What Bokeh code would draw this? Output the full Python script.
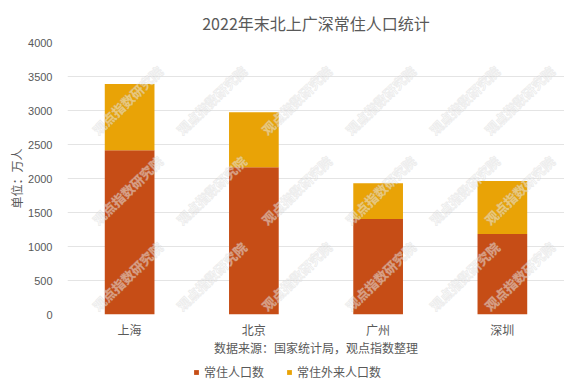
from bokeh.plotting import figure
from bokeh.layouts import column
from bokeh.models import ColumnDataSource, Range1d, FixedTicker, Legend, LegendItem, Label
from bokeh.embed import file_html
from bokeh.resources import INLINE

cities = ["上海", "北京", "广州", "深圳"]
resident = [2415, 2165, 1405, 1185]
migrant = [975, 810, 525, 780]
series = ["常住人口数", "常住外来人口数"]
colors = ["#C64D16", "#E9A306"]
y_ticks = [0, 500, 1000, 1500, 2000, 2500, 3000, 3500, 4000]
watermark_text = "观点指数研究院"

FONT = "Noto Sans CJK SC"
GRAY = "#595959"

source = ColumnDataSource(data=dict(city=cities, resident=resident, migrant=migrant))

p = figure(x_range=cities, y_range=Range1d(0, 4000), width=559, height=358,
           output_backend="svg", toolbar_location=None,
           min_border_left=51, min_border_right=0, min_border_top=33, min_border_bottom=44)
p.margin = (0, 0, 0, 5)

p.vbar_stack(["resident", "migrant"], x="city", width=0.4, color=colors,
             line_color=None, source=source)

p.title.text = "2022年末北上广深常住人口统计"
p.title.align = "center"
p.title.text_font = FONT
p.title.text_font_size = "16px"
p.title.text_font_style = "normal"
p.title.text_color = GRAY
p.title.standoff = 16

p.outline_line_color = None
p.xgrid.grid_line_color = None
p.ygrid.grid_line_color = "#E4E4E4"
p.ygrid.grid_line_width = 1

p.yaxis.ticker = FixedTicker(ticks=y_ticks)
p.yaxis.axis_line_color = None
p.yaxis.major_tick_line_color = None
p.yaxis.minor_tick_line_color = None
p.yaxis.major_label_text_font = "Liberation Sans"
p.yaxis.major_label_text_font_size = "11px"
p.yaxis.major_label_text_color = GRAY
p.yaxis.major_label_standoff = 9
p.yaxis.axis_label = "单位：万人"
p.yaxis.axis_label_text_font = FONT
p.yaxis.axis_label_text_font_size = "12px"
p.yaxis.axis_label_text_font_style = "normal"
p.yaxis.axis_label_text_color = GRAY
p.yaxis.axis_label_standoff = 0

p.xaxis.axis_line_color = None
p.xaxis.major_tick_line_color = None
p.xaxis.minor_tick_line_color = None
p.xaxis.major_label_text_font = FONT
p.xaxis.major_label_text_font_size = "12px"
p.xaxis.major_label_text_color = GRAY
p.xaxis.major_label_standoff = 0
p.xaxis.axis_label = "数据来源：国家统计局，观点指数整理"
p.xaxis.axis_label_text_font = FONT
p.xaxis.axis_label_text_font_size = "12px"
p.xaxis.axis_label_text_font_style = "normal"
p.xaxis.axis_label_text_color = GRAY
p.xaxis.axis_label_standoff = -2

# faint diagonal watermark (screen offsets from the plot frame's lower-left corner)
for wy in [38, 124, 214]:
    for wx in [60, 144, 229, 313, 397, 452]:
        p.add_layout(Label(x=wx, y=wy, x_units="screen", y_units="screen",
                           text=watermark_text, angle=0.77, text_font=FONT,
                           text_font_size="13px", text_font_style="bold",
                           text_color="white", text_alpha=0.45,
                           text_outline_color="rgba(185,185,185,0.55)",
                           text_align="center", text_baseline="middle"))

# legend strip underneath the chart (its own bars are hidden; only the swatches show)
lg = figure(x_range=cities, y_range=Range1d(-2, -1), width=564, height=22,
            output_backend="svg", toolbar_location=None,
            x_axis_location=None, y_axis_location=None,
            min_border_left=0, min_border_right=0, min_border_top=0, min_border_bottom=0)
lg.grid.grid_line_color = None
lg.outline_line_color = None
swatches = lg.vbar_stack(["resident", "migrant"], x="city", width=0.4, color=colors,
                         line_color=None, source=source)
for r in swatches:
    r.visible = False
legend = Legend(items=[LegendItem(label=series[i], renderers=[swatches[i]]) for i in range(2)],
                orientation="horizontal", location=(131, 0), click_policy="none",
                label_text_font=FONT, label_text_font_size="12px", label_text_color=GRAY,
                glyph_width=6, glyph_height=6, spacing=22, label_standoff=5,
                padding=0, margin=0, border_line_color=None, background_fill_alpha=0,
                inactive_fill_alpha=0)
lg.add_layout(legend, "center")

open("out.html", "w").write(file_html(column(p, lg, spacing=0), INLINE))
